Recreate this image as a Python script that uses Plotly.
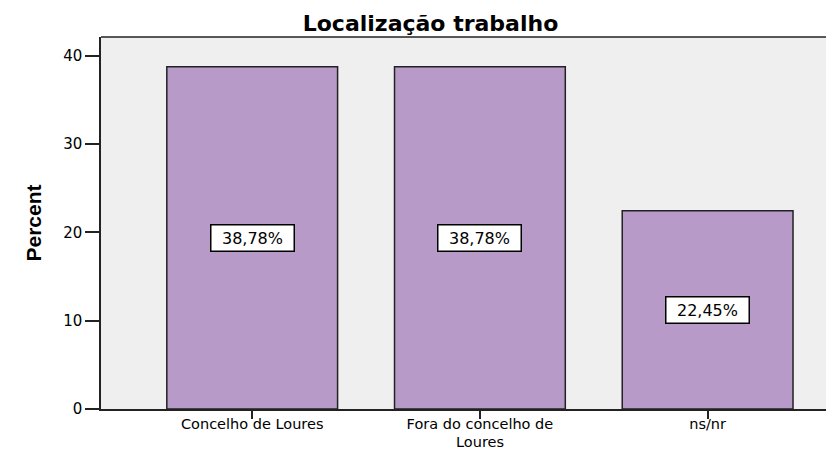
import plotly.graph_objects as go

categories = ["Concelho de Loures", "Fora do concelho de", "ns/nr"]
category_second_lines = ["", "Loures", ""]
values = [38.78, 38.78, 22.45]
labels = ["38,78%", "38,78%", "22,45%"]
y_ticks = [0, 10, 20, 30, 40]

FONT = "DejaVu Sans, Liberation Sans, Arial"

fig = go.Figure()
fig.add_trace(go.Bar(
    x=list(range(len(categories))), y=values, width=0.75,
    marker=dict(color="#b79ac8", line=dict(color="#222222", width=1.5)),
    hoverinfo="skip",
))
for i, (v, lab) in enumerate(zip(values, labels)):
    fig.add_annotation(x=i, y=v / 2, text=lab, showarrow=False,
                       font=dict(family=FONT, size=16, color="black"),
                       width=76, bgcolor="white", bordercolor="black", borderwidth=1.5, borderpad=3)
for i, second in enumerate(category_second_lines):
    if second:
        fig.add_annotation(x=i, xref="x", y=-0.0887, yref="paper", yanchor="middle",
                           text=second, showarrow=False, borderpad=0,
                           font=dict(family=FONT, size=14.5, color="black"))

fig.add_shape(type="line", xref="paper", yref="paper", x0=0, x1=1, y0=1, y1=1,
              line=dict(color="#222222", width=1.5))

# page body has an 8px default margin: figure is sized/offset to compensate
fig.update_layout(
    width=826, height=441,
    margin=dict(l=93, r=0, t=29, b=40),
    paper_bgcolor="white", plot_bgcolor="#efefef",
    showlegend=False,
    title=dict(text="<b>Localização trabalho</b>", x=0.5115, xanchor="center", y=0.966, yanchor="middle",
               font=dict(family=FONT, size=22, color="black")),
    font=dict(family=FONT, size=15, color="black"),
    xaxis=dict(tickmode="array", tickvals=list(range(len(categories))), ticktext=categories,
               range=[-0.664, 2.555], showline=True, linecolor="#222222", linewidth=1.5,
               ticks="outside", ticklen=8, tickwidth=1.5, tickcolor="#222222",
               ticklabelstandoff=-7,
               showgrid=False, zeroline=False, fixedrange=True, automargin=False,
               tickfont=dict(family=FONT, size=14.5)),
    yaxis=dict(range=[0, 42.15], tickvals=y_ticks, showline=True, linecolor="#222222", linewidth=1.5,
               ticks="outside", ticklen=14, tickwidth=1.5, tickcolor="#222222",
               showgrid=False, zeroline=False, fixedrange=True, automargin=False,
               tickfont=dict(family=FONT, size=15),
               title=dict(text="<b>Percent</b>", standoff=16,
                          font=dict(family="Liberation Sans, Arial", size=21))),
)

fig.write_html("out.html")
